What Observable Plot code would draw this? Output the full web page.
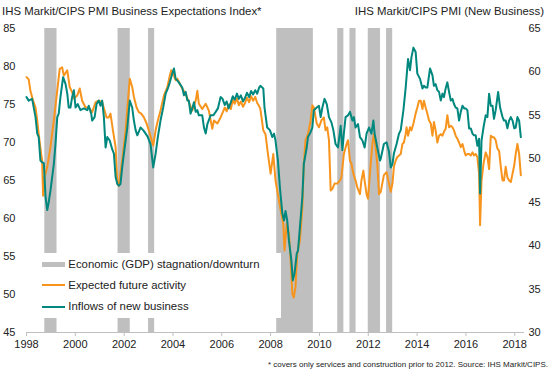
<!DOCTYPE html>
<html>
<head>
<meta charset="utf-8">
<script src="https://cdn.jsdelivr.net/npm/d3@7"></script>
<script src="https://cdn.jsdelivr.net/npm/@observablehq/plot@0.6"></script>
<style>
  html, body { margin: 0; padding: 0; background: #fff; }
  #wrap { position: relative; width: 550px; height: 378px; font-family: "Liberation Sans", Arial, sans-serif; color: #222; }
  .t { position: absolute; font-size: 11.4px; line-height: 11px; white-space: nowrap; }
  #cap { position: absolute; right: 2px; top: 361px; font-size: 8px; line-height: 8px; white-space: nowrap; }
  #legend { position: absolute; left: 28px; top: 253px; width: 253px; height: 65px; background: #fff; }
  .sw { position: absolute; left: 13.7px; width: 23.3px; }
  .lt { position: absolute; left: 40.3px; font-size: 11.4px; line-height: 11px; white-space: nowrap; }
</style>
</head>
<body>
<div id="wrap">
  <div id="chart"></div>
  <div class="t" style="left:2px;top:6px">IHS Markit/CIPS PMI Business Expectations Index*</div>
  <div class="t" style="right:6px;top:6px">IHS Markit/CIPS PMI (New Business)</div>
  <div id="legend">
    <div class="sw" style="top:8.7px;height:5.6px;background:#bfbfbf"></div>
    <div class="lt" style="top:6px">Economic (GDP) stagnation/downturn</div>
    <div class="sw" style="top:31px;height:2px;background:#f7941d"></div>
    <div class="lt" style="top:27px">Expected future activity</div>
    <div class="sw" style="top:52.7px;height:2px;background:#00877e"></div>
    <div class="lt" style="top:48.4px">Inflows of new business</div>
  </div>
  <div id="cap">* covers only services and construction prior to 2012. Source: IHS Markit/CIPS.</div>
</div>
<script>
// Recession / stagnation bands (decimal years)
const bandStart = [1998.75, 2001.75, 2003.0, 2008.25, 2010.75, 2011.25, 2012.0, 2012.75];
const bandEnd   = [1999.25, 2002.25, 2003.25, 2009.75, 2011.0, 2011.5, 2012.5, 2013.0];

const xTicks = [1998, 2000, 2002, 2004, 2006, 2008, 2010, 2012, 2014, 2016, 2018];
const leftTicks = [45, 50, 55, 60, 65, 70, 75, 80, 85];
const rightTicks = [30, 35, 40, 45, 50, 55, 60, 65];

// Expected future activity (left axis)
const orangeT = [1998.00,1998.09,1998.16,1998.27,1998.37,1998.44,1998.50,1998.60,1998.64,1998.68,1998.74,1998.85,1998.98,1999.12,1999.23,1999.36,1999.46,1999.53,1999.67,1999.77,1999.87,1999.94,2000.08,2000.18,2000.28,2000.42,2000.55,2000.69,2000.83,2000.96,2001.10,2001.28,2001.37,2001.44,2001.55,2001.65,2001.72,2001.78,2001.92,2002.06,2002.23,2002.33,2002.40,2002.51,2002.60,2002.70,2002.81,2002.92,2003.01,2003.11,2003.19,2003.29,2003.38,2003.49,2003.63,2003.77,2003.87,2003.93,2004.01,2004.11,2004.18,2004.28,2004.38,2004.52,2004.65,2004.79,2004.93,2005.00,2005.06,2005.20,2005.34,2005.47,2005.61,2005.68,2005.82,2005.95,
  2006.03,2006.12,2006.20,2006.28,2006.37,2006.45,2006.53,2006.62,2006.70,2006.78,2006.87,2006.95,2007.03,2007.12,2007.20,2007.28,2007.37,2007.45,2007.53,
  2007.58,2007.70,2007.79,2007.89,2008.00,2008.11,2008.20,2008.34,2008.44,2008.52,2008.57,2008.66,2008.75,2008.82,2008.89,2008.95,2009.02,2009.09,2009.20,2009.30,2009.36,2009.43,2009.53,2009.64,2009.71,2009.77,2009.89,2009.98,2010.08,2010.18,2010.25,2010.32,2010.39,2010.46,2010.53,2010.62,2010.73,2010.84,2010.90,2011.00,2011.11,2011.17,2011.25,2011.31,2011.39,2011.48,2011.55,2011.66,2011.72,2011.80,2011.85,2011.93,2011.99,2012.10,2012.17,2012.23,2012.30,2012.37,2012.44,
  2012.51,2012.64,2012.75,2012.85,2012.92,2012.99,2013.05,2013.12,2013.19,2013.33,2013.40,2013.46,2013.53,2013.57,2013.63,2013.71,2013.77,2013.85,2013.94,2014.01,2014.08,2014.15,2014.22,2014.28,2014.35,2014.42,2014.49,2014.56,2014.63,2014.69,2014.76,2014.83,2014.90,2014.97,2015.04,2015.10,2015.17,2015.24,2015.31,2015.38,2015.45,2015.51,2015.58,2015.65,2015.72,2015.79,2015.86,2015.93,2015.99,2016.06,2016.13,2016.20,2016.27,2016.33,2016.40,2016.47,2016.54,2016.58,2016.64,2016.72,2016.81,2016.88,2016.95,2017.02,2017.09,2017.15,2017.22,2017.29,2017.36,2017.43,2017.50,2017.56,2017.63,2017.70,2017.77,2017.84,2017.91,2017.98,2018.04,2018.11,2018.18,2018.25];
const orangeV = [78.6,78.3,76.8,75.5,74.6,72.9,71.1,68.5,67.6,63.0,65.4,66.8,69.4,72.9,76.0,79.7,79.9,78.8,79.5,77.3,76.6,75.8,76.2,77.1,75.5,74.6,74.6,74.0,75.3,75.5,75.3,73.3,73.3,73.8,71.4,69.4,64.6,64.3,67.6,71.6,78.4,77.3,76.0,74.6,74.0,73.8,73.3,72.5,71.6,70.5,69.6,71.6,72.9,74.2,76.2,77.3,78.8,79.5,79.0,78.2,78.4,77.7,77.1,76.4,75.3,74.2,75.5,76.8,75.1,74.4,75.1,74.2,71.8,72.9,72.5,73.3,
  73.9,74.6,74.1,75.0,74.4,75.6,75.1,75.8,74.9,75.4,74.7,75.2,75.9,75.3,76.1,75.5,76.0,75.2,74.8,
  74.4,71.6,71.1,68.5,65.9,68.5,65.0,62.4,60.6,59.3,55.8,59.3,58.0,54.5,50.1,49.6,51.0,55.4,57.1,61.5,67.2,70.3,71.1,72.9,74.9,74.6,72.5,72.0,72.9,73.3,71.6,72.0,70.3,63.7,63.9,64.6,64.6,65.0,65.4,68.5,69.8,70.3,67.6,67.2,65.9,65.0,64.1,63.2,65.0,66.3,65.0,63.2,62.6,67.2,69.8,71.1,69.4,67.2,63.2,
  63.5,65.7,66.1,64.6,63.5,64.6,66.8,67.6,68.1,68.5,69.8,70.0,71.1,72.0,70.9,72.0,71.6,72.5,73.8,74.6,75.5,75.5,74.4,75.5,74.6,73.8,72.9,72.5,70.9,72.7,71.6,70.0,70.9,71.1,70.9,71.4,71.8,73.6,72.0,72.2,72.0,71.6,70.9,70.5,70.0,69.4,69.8,68.9,68.3,68.5,68.5,68.3,68.7,68.3,68.5,68.1,65.9,59.1,65.0,67.2,68.7,68.1,66.5,70.9,70.7,70.7,70.3,69.2,68.9,66.8,65.0,65.0,66.8,65.4,65.0,64.8,65.9,67.0,68.5,69.8,68.5,65.7];

// Inflows of new business (right axis)
const tealT = [1998.00,1998.09,1998.23,1998.37,1998.44,1998.50,1998.57,1998.64,1998.71,1998.78,1998.85,1998.91,1998.98,1999.12,1999.19,1999.26,1999.32,1999.39,1999.50,1999.60,1999.67,1999.73,1999.80,1999.87,1999.94,2000.01,2000.10,2000.21,2000.35,2000.49,2000.55,2000.65,2000.69,2000.79,2000.87,2000.96,2001.03,2001.10,2001.17,2001.24,2001.31,2001.41,2001.51,2001.58,2001.65,2001.72,2001.78,2001.85,2001.92,2001.99,2002.13,2002.23,2002.33,2002.40,2002.47,2002.54,2002.67,2002.78,2002.88,2002.97,2003.08,2003.19,2003.29,2003.38,2003.49,2003.60,2003.70,2003.79,2003.87,2003.97,2004.04,2004.11,2004.18,2004.24,2004.38,2004.45,2004.52,2004.59,2004.65,2004.72,2004.79,2004.86,2004.93,2005.00,2005.06,2005.20,2005.27,2005.34,2005.41,2005.54,2005.65,2005.75,2005.84,2005.95,
  2006.03,2006.12,2006.20,2006.28,2006.37,2006.45,2006.53,2006.62,2006.70,2006.78,2006.87,2006.95,2007.03,2007.12,2007.20,2007.28,2007.37,2007.45,2007.53,
  2007.58,2007.70,2007.75,2007.86,2007.97,2008.07,2008.14,2008.20,2008.30,2008.38,2008.48,2008.55,2008.61,2008.68,2008.75,2008.85,2008.91,2008.98,2009.07,2009.12,2009.20,2009.30,2009.36,2009.48,2009.53,2009.61,2009.71,2009.77,2009.89,2009.98,2010.05,2010.12,2010.21,2010.30,2010.39,2010.49,2010.57,2010.66,2010.76,2010.87,2010.94,2011.00,2011.07,2011.17,2011.25,2011.35,2011.41,2011.48,2011.58,2011.66,2011.76,2011.85,2011.93,2012.03,2012.13,2012.21,2012.26,2012.37,2012.48,
  2012.51,2012.64,2012.75,2012.85,2012.92,2012.99,2013.05,2013.16,2013.26,2013.33,2013.44,2013.53,2013.63,2013.71,2013.77,2013.85,2013.94,2014.01,2014.12,2014.22,2014.28,2014.35,2014.42,2014.53,2014.63,2014.69,2014.76,2014.83,2014.90,2014.97,2015.04,2015.10,2015.17,2015.24,2015.31,2015.38,2015.45,2015.51,2015.58,2015.65,2015.72,2015.79,2015.86,2015.93,2015.99,2016.06,2016.13,2016.20,2016.27,2016.33,2016.40,2016.47,2016.54,2016.58,2016.64,2016.72,2016.81,2016.88,2016.95,2017.02,2017.09,2017.15,2017.22,2017.32,2017.40,2017.50,2017.56,2017.63,2017.70,2017.77,2017.84,2017.91,2017.98,2018.04,2018.11,2018.18,2018.25];
const tealV = [57.1,56.7,56.9,54.8,52.9,52.5,49.8,49.6,49.5,45.6,44.1,45.0,46.3,49.4,51.8,54.8,55.2,57.1,59.4,58.6,57.5,55.9,55.9,57.1,57.9,55.9,56.3,55.6,55.8,55.6,56.1,55.2,54.4,54.8,56.3,56.7,56.1,56.7,54.8,51.3,52.5,52.1,51.1,50.6,47.9,47.1,46.9,47.1,49.0,50.6,53.6,56.7,55.9,54.4,53.3,52.7,53.6,53.3,52.9,52.5,51.7,49.0,50.6,52.5,54.4,55.9,57.5,58.1,58.8,59.8,60.4,59.2,59.0,58.8,58.2,57.3,57.7,56.7,56.7,55.2,55.8,56.5,55.4,55.6,55.0,55.0,53.6,52.9,54.0,55.0,55.0,55.4,55.8,57.1,
  56.9,56.2,56.6,55.8,56.5,57.2,56.8,57.5,56.9,57.3,56.6,57.0,57.6,57.1,57.8,57.4,57.9,57.5,58.2,
  58.4,58.1,55.9,53.6,53.3,52.5,52.9,52.1,49.8,46.7,43.7,42.9,44.0,42.9,40.6,38.3,36.0,36.8,39.1,39.4,42.1,45.6,49.4,51.3,52.5,52.9,53.6,55.6,55.9,56.1,54.8,55.9,56.9,56.3,54.8,54.2,53.3,51.7,51.3,53.8,51.0,52.9,54.8,55.0,55.4,54.4,54.8,53.6,54.0,52.5,52.1,51.3,52.9,53.6,52.9,54.4,52.9,51.3,49.8,
  50.0,51.7,51.9,50.8,49.0,49.4,50.6,51.7,52.9,53.3,55.6,58.1,61.5,60.2,61.7,62.8,62.3,59.8,59.2,58.1,58.4,58.2,58.2,60.4,59.6,58.4,58.6,57.9,57.7,56.7,57.5,57.1,58.1,58.8,57.7,56.7,56.9,56.3,55.9,55.8,54.4,55.4,56.1,55.8,55.8,55.6,53.5,53.5,52.9,52.7,52.7,51.5,52.3,46.0,52.1,53.6,55.0,54.8,57.5,56.1,56.1,54.6,55.6,57.7,55.9,54.8,54.4,54.4,53.5,54.4,54.8,54.4,53.5,53.6,54.8,54.4,52.5];

const bands = bandStart.map((s, i) => ({start: s, end: bandEnd[i]}));
const orange = orangeT.map((t, i) => ({t, v: orangeV[i]}));
const teal = tealT.map((t, i) => ({t, v: tealV[i]}));

// right axis (30..65) shares the same vertical extent as left axis (45..85)
const toLeft = r => 45 + (r - 30) * 40 / 35;
const toRight = l => 30 + (l - 45) * 35 / 40;

const chart = Plot.plot({
  width: 550,
  height: 378,
  marginTop: 28,
  marginBottom: 46,
  marginLeft: 26,
  marginRight: 26,
  x: {domain: [1998, 2018.4]},
  y: {domain: [45, 85]},
  style: {fontFamily: "'Liberation Sans', Arial, sans-serif", fontSize: "11px", color: "#222", background: "white", overflow: "visible"},
  marks: [
    Plot.rect(bands, {x1: "start", x2: "end", fill: "#bfbfbf"}),
    Plot.ruleY([45], {stroke: "#bfbfbf", strokeWidth: 1}),
    Plot.axisX({ticks: xTicks, tickFormat: d => String(d), tickSize: 4, tickPadding: 4, stroke: "#bfbfbf", fill: "#222", label: null}),
    Plot.axisY({ticks: leftTicks, anchor: "left", tickSize: 0, tickPadding: 11, fill: "#222", label: null}),
    Plot.axisY({ticks: rightTicks.map(toLeft), anchor: "right", tickSize: 0, tickPadding: 4, tickFormat: d => String(Math.round(toRight(d))), fill: "#222", label: null}),
    Plot.line(orange, {x: "t", y: "v", stroke: "#f7941d", strokeWidth: 2}),
    Plot.line(teal, {x: "t", y: d => toLeft(d.v), stroke: "#00877e", strokeWidth: 2})
  ]
});
document.getElementById("chart").appendChild(chart);
</script>
</body>
</html>
